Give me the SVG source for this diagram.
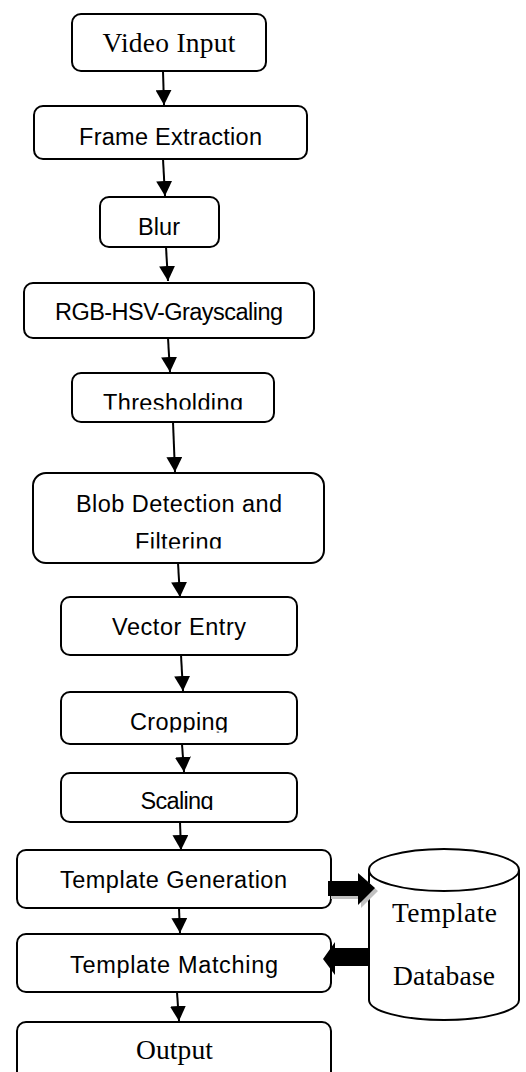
<svg xmlns="http://www.w3.org/2000/svg" width="526" height="1072" viewBox="0 0 526 1072">
<style>
.box{fill:#fff;stroke:#000;stroke-width:2}
.serif{font-family:"Liberation Serif","Times New Roman",serif;font-size:27.5px;fill:#000;text-anchor:middle}
.sans{font-family:"Liberation Sans",Arial,sans-serif;font-size:23.5px;fill:#000;text-anchor:middle}
.conn{stroke:#000;stroke-width:2;fill:none;marker-end:url(#ah)}
</style>
<defs>
<marker id="ah" markerUnits="userSpaceOnUse" markerWidth="16" markerHeight="16" viewBox="0 0 16 16" refX="15" refY="8" orient="auto">
<path d="M0,0 L15,8 L0,16 Z" fill="#000"/>
</marker>
<clipPath id="c1" clipPathUnits="userSpaceOnUse"><rect x="60" y="380" width="230" height="29.5"/></clipPath>
<clipPath id="c2" clipPathUnits="userSpaceOnUse"><rect x="40" y="520" width="280" height="28.5"/></clipPath>
<clipPath id="c3" clipPathUnits="userSpaceOnUse"><rect x="60" y="700" width="240" height="32.5"/></clipPath>
<clipPath id="c4" clipPathUnits="userSpaceOnUse"><rect x="60" y="780" width="240" height="30"/></clipPath>
</defs>
<g id="n1"><rect class="box" x="72" y="14" width="194" height="57" rx="9"/><text class="serif" x="169" y="52" textLength="133">Video Input</text></g>
<g id="n2"><rect class="box" x="34" y="106" width="273" height="53" rx="9"/><text class="sans" x="170.5" y="145" textLength="183">Frame Extraction</text></g>
<g id="n3"><rect class="box" x="100" y="197" width="119" height="50" rx="9"/><text class="sans" x="159" y="235" textLength="42">Blur</text></g>
<g id="n4"><rect class="box" x="24" y="283" width="290" height="55" rx="9"/><text class="sans" x="169" y="320" textLength="228">RGB-HSV-Grayscaling</text></g>
<g id="n5"><rect class="box" x="72" y="373" width="202" height="49" rx="9"/><text class="sans" x="173" y="411" textLength="140" clip-path="url(#c1)">Thresholding</text></g>
<g id="n6"><rect class="box" x="33" y="473" width="291" height="90" rx="13"/><text class="sans" x="179" y="512" textLength="206">Blob Detection and</text><text class="sans" x="178.5" y="550" textLength="87" clip-path="url(#c2)">Filtering</text></g>
<g id="n7"><rect class="box" x="61" y="597" width="236" height="58" rx="9"/><text class="sans" x="179" y="635" textLength="134">Vector Entry</text></g>
<g id="n8"><rect class="box" x="61" y="692" width="236" height="52" rx="9"/><text class="sans" x="179" y="730" textLength="98" clip-path="url(#c3)">Cropping</text></g>
<g id="n9"><rect class="box" x="61" y="773" width="236" height="49" rx="9"/><text class="sans" x="177" y="809" textLength="73" clip-path="url(#c4)">Scaling</text></g>
<g id="n10"><rect class="box" x="17" y="850" width="314" height="58" rx="9"/><text class="sans" x="173.5" y="888" textLength="227">Template Generation</text></g>
<g id="n11"><rect class="box" x="17" y="934" width="314" height="58" rx="9"/><text class="sans" x="174" y="973" textLength="208">Template Matching</text></g>
<g id="n12"><rect class="box" x="17" y="1022" width="314" height="70" rx="9"/><text class="serif" x="174.5" y="1059" textLength="77">Output</text></g>
<g id="db">
<path class="box" d="M369,870 L369,1000 A75,20 0 0 0 519,1000 L519,870"/>
<ellipse class="box" cx="444" cy="870" rx="75" ry="21"/>
<text class="serif" x="444.5" y="922" textLength="105">Template</text>
<text class="serif" x="444" y="985" textLength="102">Database</text>
</g>
<g id="connectors">
<path class="conn" d="M163,71 L164,105"/>
<path class="conn" d="M163,159 L165,196"/>
<path class="conn" d="M166,247 L168,281"/>
<path class="conn" d="M168,338 L170,372"/>
<path class="conn" d="M173,422 L175,472"/>
<path class="conn" d="M178,563 L180,597"/>
<path class="conn" d="M181,655 L183,691"/>
<path class="conn" d="M182,744 L184,772"/>
<path class="conn" d="M180,822 L181,850"/>
<path class="conn" d="M179,908 L180,933"/>
<path class="conn" d="M177,992 L179,1021"/>
<polygon points="331,884 361,884 361,876 378,891 361,908 361,899 331,899" fill="#c0c0c0"/>
<polygon points="328,881 358,881 358,873 375,888 358,905 358,896 328,896" fill="#000"/>
<polygon points="369,948 335,948 335,942 323,959 335,975 335,966 369,966" fill="#000"/>
</g>
</svg>
